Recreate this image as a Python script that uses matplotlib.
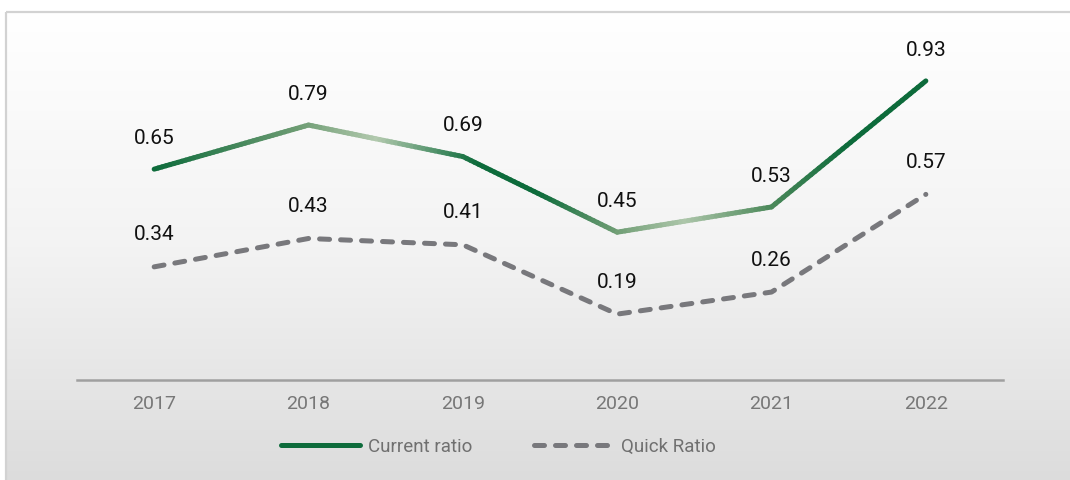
import numpy as np
import matplotlib
matplotlib.use("Agg")
import matplotlib.pyplot as plt
from matplotlib.collections import LineCollection
from matplotlib.colors import LinearSegmentedColormap
from matplotlib.lines import Line2D
from matplotlib.patches import Rectangle

years = ["2017", "2018", "2019", "2020", "2021", "2022"]
current_ratio = [0.65, 0.79, 0.69, 0.45, 0.53, 0.93]
quick_ratio = [0.34, 0.43, 0.41, 0.19, 0.26, 0.57]

GREEN = "#0d6b3b"
GREY = "#78787c"
plt.rcParams["font.family"] = ["Roboto", "DejaVu Sans"]

W, H = 1070, 480
fig = plt.figure(figsize=(W / 100, H / 100), dpi=100)

# panel background: white to light grey, with a thin border
bg = fig.add_axes([0, 0, 1, 1], zorder=-10)
bg.set_xlim(0, W)
bg.set_ylim(H, 0)
bg.axis("off")
grad = np.linspace(0, 1, 256)[:, None]
bg_cmap = LinearSegmentedColormap.from_list("bg", ["#ffffff", "#f3f3f3", "#dcdcdc"])
bg.imshow(grad, cmap=bg_cmap, extent=[6, W + 2, H + 2, 12], aspect="auto")
bg.add_patch(Rectangle((5.5, 11.5), W, H, fill=False, ec="#d2d2d2", lw=1.6))

ax = fig.add_axes([77 / W, 100 / H, 926 / W, 318 / H])
ax.patch.set_alpha(0)
x = np.arange(len(years))
ax.set_xlim(-0.5, len(years) - 0.5)
ax.set_ylim(-0.019, 0.99)

# current ratio: solid line shaded along x
line_cmap = LinearSegmentedColormap.from_list("cur", [
    (0.00, GREEN), (0.19, "#6f9d74"), (0.29, "#b2c9ae"), (0.42, GREEN),
    (0.50, GREEN), (0.60, "#6f9d74"), (0.69, "#adc6aa"), (0.80, "#4e8a5c"),
    (0.90, GREEN), (1.00, GREEN)])
segs, vals = [], []
for i in range(len(x) - 1):
    t = np.linspace(0, 1, 40)
    xs = x[i] + (x[i + 1] - x[i]) * t
    ys = current_ratio[i] + (current_ratio[i + 1] - current_ratio[i]) * t
    for j in range(len(t) - 1):
        segs.append([(xs[j], ys[j]), (xs[j + 1], ys[j + 1])])
        vals.append((xs[j] + xs[j + 1]) / 2 / x[-1])
lc = LineCollection(segs, cmap=line_cmap, linewidths=3.6, capstyle="round",
                    joinstyle="round", zorder=3)
lc.set_array(np.array(vals))
lc.set_clim(0, 1)
ax.add_collection(lc)

ax.plot(x, quick_ratio, color=GREY, lw=3.6, dashes=(2.0, 2.2),
        dash_capstyle="round", solid_joinstyle="round", zorder=3)

for xi, v in zip(x, current_ratio):
    ax.annotate(f"{v:.2f}", (xi, v), textcoords="offset points", xytext=(0, 22),
                ha="center", va="center", fontsize=15, color="#111111",
                annotation_clip=False)
for xi, v in zip(x, quick_ratio):
    ax.annotate(f"{v:.2f}", (xi, v), textcoords="offset points", xytext=(0, 23),
                ha="center", va="center", fontsize=15, color="#111111",
                annotation_clip=False)

for s in ["top", "right", "left"]:
    ax.spines[s].set_visible(False)
ax.spines["bottom"].set_color("#a0a0a0")
ax.spines["bottom"].set_linewidth(1.8)
ax.set_yticks([])
ax.set_xticks(x)
ax.set_xticklabels(years, fontsize=14, color="#777777")
ax.tick_params(axis="x", length=0, pad=11)

handles = [
    Line2D([], [], color=GREEN, lw=3.6, solid_capstyle="round"),
    Line2D([], [], color=GREY, lw=3.6, dashes=(2.0, 2.2), dash_capstyle="round"),
]
fig.legend(handles, ["Current ratio", "Quick Ratio"], loc="center",
           bbox_to_anchor=(0.466, 1 - 447 / H), ncol=2, frameon=False,
           fontsize=13.5, labelcolor="#707070", handlelength=4.2,
           handletextpad=0.45, columnspacing=3.3)

fig.savefig("out.png", dpi=100)
